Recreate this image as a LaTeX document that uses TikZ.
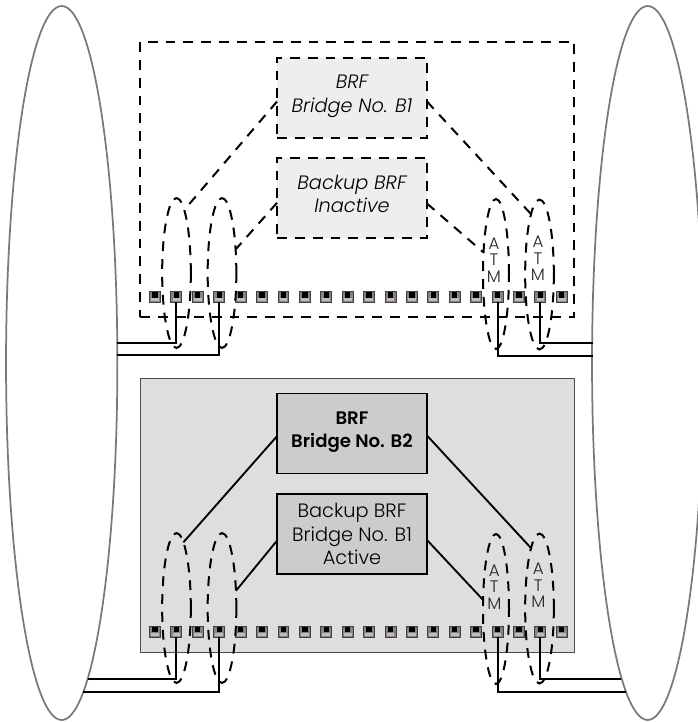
\documentclass[tikz,border=0pt]{standalone}
\usepackage{fontspec}
\setmainfont{Poppins Light}[ItalicFont=Poppins Light Italic, BoldFont=Poppins SemiBold]
\usetikzlibrary{shapes.geometric}
\definecolor{panel}{HTML}{DEDEDE}
\definecolor{boxon}{HTML}{CCCCCC}
\definecolor{boxoff}{HTML}{EEEEEE}
\definecolor{portgray}{HTML}{8C8084}
\definecolor{portlight}{HTML}{BDBDBD}
\tikzset{
  cloud/.style={draw=gray!95!black, line width=1.3pt, ellipse, minimum width=83.5pt, minimum height=535.5pt, inner sep=0pt, outer sep=0pt},
  dashline/.style={line width=1.5pt, dash pattern=on 7.4pt off 6pt},
  lag/.style={draw, dashline, ellipse, minimum width=21.5pt, minimum height=112.5pt, inner sep=0pt, outer sep=0pt},
  lagr/.style={lag, minimum width=19.5pt},
  brfbox/.style={minimum width=112.5pt, minimum height=60pt, align=center, font=\fontsize{14.5}{17.7}\selectfont, inner sep=0pt, outer sep=0pt},
  port/.style={draw=black!75, line width=0.7pt, fill=portgray, minimum size=8.2pt, inner sep=0pt, outer sep=0pt,
    path picture={
      \fill[portlight] ([xshift=1.2pt,yshift=1pt]path picture bounding box.south west) rectangle ([xshift=-1.2pt,yshift=3.2pt]path picture bounding box.south east);
      \fill[black] ([xshift=-2pt,yshift=-0.4pt]path picture bounding box.north) rectangle ([xshift=2pt,yshift=-4.6pt]path picture bounding box.north);
    }},
  wire/.style={line width=1.5pt},
  atm/.style={align=center, font=\fontsize{12.5}{12.4}\selectfont, inner sep=0pt, text=black!85}
}
\begin{document}
\begin{tikzpicture}[x=0.75pt, y=-0.75pt]
  \useasboundingbox (0,0) rectangle (697,722);
  \node[cloud] (cloudl) at (61.7,363) {};
  \node[cloud] (cloudr) at (647.7,363) {};
  \node[draw, dashline, minimum width=325.5pt, minimum height=206.25pt, inner sep=0pt, outer sep=0pt] (inactive) at (357.2,179) {};
  \node[draw=black!70, line width=0.7pt, fill=panel, minimum width=325.5pt, minimum height=205.5pt, inner sep=0pt, outer sep=0pt] (active) at (357.5,515) {};
  \node[brfbox, draw, dashline, fill=boxoff, font=\fontsize{14.5}{17.7}\selectfont\itshape, text depth=5.2pt] (brfa) at (352,97.5) {BRF\\Bridge No. B1};
  \node[brfbox, draw, dashline, fill=boxoff, font=\fontsize{14.5}{17.7}\selectfont\itshape, text depth=5.2pt] (backa) at (352,197.5) {Backup BRF\\Inactive};
  \node[brfbox, draw, line width=1.4pt, fill=boxon, font=\fontsize{13.6}{17.7}\selectfont\bfseries, text depth=5.6pt] (brfb) at (352,433.5) {BRF\\Bridge No. B2};
  \node[brfbox, draw, line width=1.4pt, fill=boxon] (backb) at (352,534) {Backup BRF\\Bridge No. B1\\Active};
  \foreach \i in {1,...,20} {
    \node[port] (pa\i) at ({155+(\i-1)*21.41},297) {};
    \node[port] (pb\i) at ({155+(\i-1)*21.41},631.7) {};
  }
  \node[lag] (laa) at (176.5,273) {};
  \node[lag] (lab) at (222,273) {};
  \node[lagr] (lac) at (496,274) {};
  \node[lag] (lad) at (539.5,274.5) {};
  \node[lag] (lba) at (176.5,608) {};
  \node[lag] (lbb) at (222,608) {};
  \node[lagr] (lbc) at (496,609) {};
  \node[lag] (lbd) at (539.5,608.5) {};
  \node[atm] (atma) at (494,260) {A\\T\\M};
  \node[atm] (atmb) at (538,258.5) {A\\T\\M};
  \node[atm] (atmc) at (494.3,587) {A\\T\\M};
  \node[atm] (atmd) at (538.3,585.5) {A\\T\\M};
  \draw[dashline] ([yshift=-3pt]brfa.west) -- (laa.83);
  \draw[dashline] ([yshift=-4pt]backa.west) -- (lab.60);
  \draw[dashline] ([yshift=-3pt]brfa.east) -- (lad.98);
  \draw[dashline] ([yshift=-4.5pt]backa.east) -- (lac.120);
  \draw[line width=1.4pt] ([yshift=-2pt]brfb.west) -- (lba.84);
  \draw[line width=1.4pt] ([yshift=-5pt]backb.west) -- (lbb.51);
  \draw[line width=1.4pt] ([yshift=-1.5pt]brfb.east) -- (lbd.98);
  \draw[line width=1.4pt] ([yshift=-4.5pt]backb.east) -- (lbc.145);
  \coordinate (wa) at (117,343);
  \coordinate (wb) at (117,355.3);
  \coordinate (wc) at (592.5,355.5);
  \coordinate (wd) at (592.5,343);
  \coordinate (we) at (88,679);
  \coordinate (wf) at (82.7,692);
  \coordinate (wg) at (626,692);
  \coordinate (wh) at (620.5,679);
  \draw[wire] (pa2.south) |- (wa);
  \draw[wire] (pa4.south) |- (wb);
  \draw[wire] (pa17.south) |- (wc);
  \draw[wire] (pa19.south) |- (wd);
  \draw[wire] (pb2.south) |- (we);
  \draw[wire] (pb4.south) |- (wf);
  \draw[wire] (pb17.south) |- (wg);
  \draw[wire] (pb19.south) |- (wh);
\end{tikzpicture}
\end{document}
